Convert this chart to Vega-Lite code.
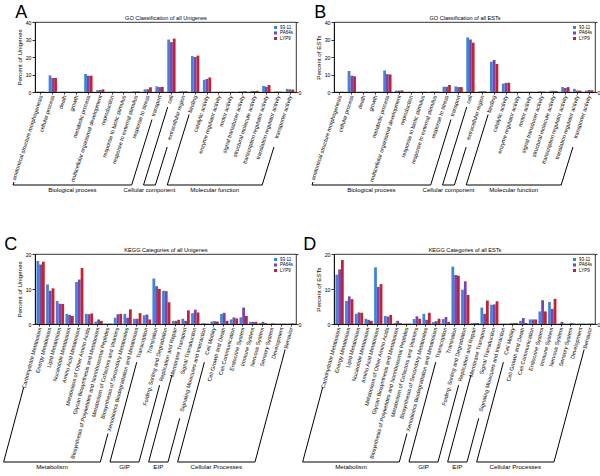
{
"$schema": "https://vega.github.io/schema/vega-lite/v6.json",
"background": "white",
"padding": {"left": 2, "top": 3, "right": 0, "bottom": 0},
"columns": 2,
"spacing": {"row": 162, "column": 38},
"bounds": "flush",
"resolve": {"scale": {"color": "independent"}, "legend": {"color": "independent"}},
"datasets": {
"goA": [
{"cat": "anatomical structure morphogenesis", "93-11": 0.1, "PA64s": 0.1, "LYP9": 0.1},
{"cat": "cellular process", "93-11": 9.5, "PA64s": 8.0, "LYP9": 8.0},
{"cat": "death", "93-11": 0.1, "PA64s": 0.1, "LYP9": 0.1},
{"cat": "growth", "93-11": 0.1, "PA64s": 0.1, "LYP9": 0.1},
{"cat": "metabolic process", "93-11": 10.3, "PA64s": 9.3, "LYP9": 9.3},
{"cat": "multicellular organismal development", "93-11": 1.0, "PA64s": 1.1, "LYP9": 1.5},
{"cat": "reproduction", "93-11": 0.1, "PA64s": 0.1, "LYP9": 0.1},
{"cat": "response to biotic stimulus", "93-11": 0.2, "PA64s": 0.1, "LYP9": 0.1},
{"cat": "response to external stimulus", "93-11": 0.3, "PA64s": 0.3, "LYP9": 0.3},
{"cat": "response to stress", "93-11": 1.5, "PA64s": 1.6, "LYP9": 2.7},
{"cat": "transport", "93-11": 3.2, "PA64s": 2.8, "LYP9": 2.9},
{"cat": "cell", "93-11": 30.0, "PA64s": 28.5, "LYP9": 30.5},
{"cat": "extracellular region", "93-11": 0.4, "PA64s": 0.4, "LYP9": 0.4},
{"cat": "binding", "93-11": 20.5, "PA64s": 20.0, "LYP9": 20.8},
{"cat": "catalytic activity", "93-11": 7.0, "PA64s": 7.5, "LYP9": 8.3},
{"cat": "enzyme regulator activity", "93-11": 0.1, "PA64s": 0.1, "LYP9": 0.1},
{"cat": "motor activity", "93-11": 0.1, "PA64s": 0.1, "LYP9": 0.1},
{"cat": "signal transducer activity", "93-11": 0.3, "PA64s": 0.3, "LYP9": 0.4},
{"cat": "structural molecule activity", "93-11": 0.7, "PA64s": 0.6, "LYP9": 0.7},
{"cat": "transcription regulator activity", "93-11": 3.5, "PA64s": 3.0, "LYP9": 4.0},
{"cat": "translation regulator activity", "93-11": 0.3, "PA64s": 0.2, "LYP9": 0.2},
{"cat": "transporter activity", "93-11": 1.8, "PA64s": 1.5, "LYP9": 1.4}
],
"goB": [
{"cat": "anatomical structure morphogenesis", "93-11": 0.1, "PA64s": 0.1, "LYP9": 0.1},
{"cat": "cellular process", "93-11": 12.0, "PA64s": 9.3, "LYP9": 9.0},
{"cat": "death", "93-11": 0.1, "PA64s": 0.1, "LYP9": 0.1},
{"cat": "growth", "93-11": 0.1, "PA64s": 0.1, "LYP9": 0.1},
{"cat": "metabolic process", "93-11": 12.3, "PA64s": 10.2, "LYP9": 10.0},
{"cat": "multicellular organismal development", "93-11": 0.8, "PA64s": 0.8, "LYP9": 0.9},
{"cat": "reproduction", "93-11": 0.1, "PA64s": 0.1, "LYP9": 0.1},
{"cat": "response to biotic stimulus", "93-11": 0.1, "PA64s": 0.1, "LYP9": 0.1},
{"cat": "response to external stimulus", "93-11": 0.3, "PA64s": 0.2, "LYP9": 0.2},
{"cat": "response to stress", "93-11": 3.0, "PA64s": 3.0, "LYP9": 4.0},
{"cat": "transport", "93-11": 3.2, "PA64s": 2.8, "LYP9": 2.8},
{"cat": "cell", "93-11": 31.2, "PA64s": 30.0, "LYP9": 28.2},
{"cat": "extracellular region", "93-11": 0.4, "PA64s": 0.4, "LYP9": 0.4},
{"cat": "binding", "93-11": 17.3, "PA64s": 18.3, "LYP9": 16.0},
{"cat": "catalytic activity", "93-11": 4.8, "PA64s": 5.2, "LYP9": 5.3},
{"cat": "enzyme regulator activity", "93-11": 0.1, "PA64s": 0.1, "LYP9": 0.1},
{"cat": "motor activity", "93-11": 0.1, "PA64s": 0.1, "LYP9": 0.1},
{"cat": "signal transducer activity", "93-11": 0.4, "PA64s": 0.3, "LYP9": 0.2},
{"cat": "structural molecule activity", "93-11": 0.7, "PA64s": 0.7, "LYP9": 0.6},
{"cat": "transcription regulator activity", "93-11": 2.8, "PA64s": 2.3, "LYP9": 2.8},
{"cat": "translation regulator activity", "93-11": 1.8, "PA64s": 0.8, "LYP9": 0.8},
{"cat": "transporter activity", "93-11": 0.8, "PA64s": 1.1, "LYP9": 1.0}
],
"keggC": [
{"cat": "Carbohydrate Metabolism", "93-11": 18.0, "PA64s": 17.0, "LYP9": 17.8},
{"cat": "Energy Metabolism", "93-11": 11.3, "PA64s": 9.5, "LYP9": 10.2},
{"cat": "Lipid Metabolism", "93-11": 6.6, "PA64s": 5.8, "LYP9": 5.7},
{"cat": "Nucleotide Metabolism", "93-11": 2.9, "PA64s": 2.6, "LYP9": 2.3},
{"cat": "Amino Acid Metabolism", "93-11": 12.0, "PA64s": 12.7, "LYP9": 16.0},
{"cat": "Metabolism of Other Amino Acids", "93-11": 2.9, "PA64s": 2.8, "LYP9": 3.0},
{"cat": "Glycan Biosynthesis and Metabolism", "93-11": 0.7, "PA64s": 1.3, "LYP9": 0.9},
{"cat": "Biosynthesis of Polyketides and Nonribosomal Peptides", "93-11": 0.1, "PA64s": 0.1, "LYP9": 0.1},
{"cat": "Metabolism of Cofactors and Vitamins", "93-11": 1.8, "PA64s": 2.8, "LYP9": 2.9},
{"cat": "Biosynthesis of Secondary Metabolites", "93-11": 2.9, "PA64s": 1.8, "LYP9": 4.2},
{"cat": "Xenobiotics Biodegradation and Metabolism", "93-11": 1.5, "PA64s": 1.5, "LYP9": 3.1},
{"cat": "Transcription", "93-11": 2.5, "PA64s": 2.7, "LYP9": 1.3},
{"cat": "Translation", "93-11": 13.0, "PA64s": 10.8, "LYP9": 10.0},
{"cat": "Folding, Sorting and Degradation", "93-11": 9.5, "PA64s": 9.4, "LYP9": 6.2},
{"cat": "Replication and Repair", "93-11": 0.9, "PA64s": 0.9, "LYP9": 1.2},
{"cat": "Membrane Transport", "93-11": 1.5, "PA64s": 0.9, "LYP9": 3.9},
{"cat": "Signal Transduction", "93-11": 3.1, "PA64s": 4.1, "LYP9": 3.3},
{"cat": "Signaling Molecules and Interaction", "93-11": 0.2, "PA64s": 0.2, "LYP9": 0.1},
{"cat": "Cell Motility", "93-11": 0.7, "PA64s": 0.8, "LYP9": 0.7},
{"cat": "Cell Growth and Death", "93-11": 2.9, "PA64s": 3.2, "LYP9": 0.9},
{"cat": "Cell Communication", "93-11": 1.3, "PA64s": 1.9, "LYP9": 1.6},
{"cat": "Endocrine System", "93-11": 1.9, "PA64s": 4.7, "LYP9": 2.3},
{"cat": "Immune System", "93-11": 0.6, "PA64s": 0.6, "LYP9": 0.6},
{"cat": "Nervous System", "93-11": 0.3, "PA64s": 0.6, "LYP9": 0.3},
{"cat": "Sensory System", "93-11": 0.1, "PA64s": 0.2, "LYP9": 0.1},
{"cat": "Development", "93-11": 0.1, "PA64s": 0.1, "LYP9": 0.1},
{"cat": "Behavior", "93-11": 0.1, "PA64s": 0.2, "LYP9": 0.1}
],
"keggD": [
{"cat": "Carbohydrate Metabolism", "93-11": 14.1, "PA64s": 15.6, "LYP9": 18.3},
{"cat": "Energy Metabolism", "93-11": 6.6, "PA64s": 7.9, "LYP9": 7.1},
{"cat": "Lipid Metabolism", "93-11": 2.9, "PA64s": 3.3, "LYP9": 3.2},
{"cat": "Nucleotide Metabolism", "93-11": 1.5, "PA64s": 1.2, "LYP9": 0.9},
{"cat": "Amino Acid Metabolism", "93-11": 16.2, "PA64s": 10.6, "LYP9": 11.4},
{"cat": "Metabolism of Other Amino Acids", "93-11": 2.3, "PA64s": 2.1, "LYP9": 2.6},
{"cat": "Glycan Biosynthesis and Metabolism", "93-11": 0.3, "PA64s": 0.9, "LYP9": 0.3},
{"cat": "Biosynthesis of Polyketides and Nonribosomal Peptides", "93-11": 0.1, "PA64s": 0.1, "LYP9": 0.1},
{"cat": "Metabolism of Cofactors and Vitamins", "93-11": 1.4, "PA64s": 2.2, "LYP9": 1.5},
{"cat": "Biosynthesis of Secondary Metabolites", "93-11": 2.9, "PA64s": 1.2, "LYP9": 3.2},
{"cat": "Xenobiotics Biodegradation and Metabolism", "93-11": 0.6, "PA64s": 0.8, "LYP9": 1.5},
{"cat": "Transcription", "93-11": 1.4, "PA64s": 2.0, "LYP9": 0.6},
{"cat": "Translation", "93-11": 16.4, "PA64s": 14.0, "LYP9": 13.8},
{"cat": "Folding, Sorting and Degradation", "93-11": 9.8, "PA64s": 12.2, "LYP9": 8.3},
{"cat": "Replication and Repair", "93-11": 0.3, "PA64s": 0.3, "LYP9": 0.3},
{"cat": "Membrane Transport", "93-11": 4.7, "PA64s": 2.9, "LYP9": 6.7},
{"cat": "Signal Transduction", "93-11": 5.5, "PA64s": 5.6, "LYP9": 6.5},
{"cat": "Signaling Molecules and Interaction", "93-11": 0.1, "PA64s": 0.1, "LYP9": 0.1},
{"cat": "Cell Motility", "93-11": 0.3, "PA64s": 0.3, "LYP9": 0.3},
{"cat": "Cell Growth and Death", "93-11": 0.9, "PA64s": 1.7, "LYP9": 0.3},
{"cat": "Cell Communication", "93-11": 1.3, "PA64s": 1.3, "LYP9": 1.3},
{"cat": "Endocrine System", "93-11": 3.6, "PA64s": 6.8, "LYP9": 3.6},
{"cat": "Immune System", "93-11": 6.3, "PA64s": 4.3, "LYP9": 7.2},
{"cat": "Nervous System", "93-11": 0.1, "PA64s": 0.6, "LYP9": 0.1},
{"cat": "Sensory System", "93-11": 0.1, "PA64s": 0.3, "LYP9": 0.1},
{"cat": "Development", "93-11": 0.1, "PA64s": 0.1, "LYP9": 0.1},
{"cat": "Behavior", "93-11": 0.1, "PA64s": 0.1, "LYP9": 0.1}
],
"goBr": [
{"group": "Biological process", "first": 0, "last": 10, "fl": "anatomical structure morphogenesis", "ll": "transport"},
{"group": "Cellular component", "first": 11, "last": 12, "fl": "cell", "ll": "extracellular region"},
{"group": "Molecular function", "first": 13, "last": 21, "fl": "binding", "ll": "transporter activity"}
],
"keggBr": [
{"group": "Metabolism", "first": 0, "last": 10, "fl": "Carbohydrate Metabolism", "ll": "Xenobiotics Biodegradation and Metabolism"},
{"group": "GIP", "first": 11, "last": 14, "fl": "Transcription", "ll": "Replication and Repair"},
{"group": "EIP", "first": 15, "last": 17, "fl": "Membrane Transport", "ll": "Signaling Molecules and Interaction"},
{"group": "Cellular Processes", "first": 18, "last": 26, "fl": "Cell Motility", "ll": "Behavior"}
]
},
"concat": [
{
"width": 261, "height": 70,
"title": {"text": "A", "anchor": "start", "frame": "bounds", "fontSize": 18, "fontWeight": "normal", "offset": 0, "dy": 7, "dx": 4},
"layer": [
{"data": {"name": "goA"},
 "transform": [{"fold": ["93-11", "PA64s", "LYP9"], "as": ["line", "pct"]}],
 "mark": {"type": "bar"},
 "encoding": {
  "x": {"field": "cat", "type": "nominal", "sort": null, "scale": {"paddingInner": 0.3, "paddingOuter": 0.15}, "axis": {"title": null, "labelAngle": -72, "labelAlign": "right", "labelBaseline": "middle", "labelFontSize": 5.5, "tickSize": 2, "labelPadding": 1, "labelOverlap": false, "labelLimit": 300}},
  "xOffset": {"field": "line", "type": "nominal", "sort": ["93-11", "PA64s", "LYP9"]},
  "y": {"field": "pct", "type": "quantitative", "scale": {"domain": [0, 40]}, "axis": {"title": "Percent of Unigenes", "values": [0, 10, 20, 30, 40], "titlePadding": 3}},
  "color": {"field": "line", "type": "nominal", "scale": {"domain": ["93-11", "PA64s", "LYP9"], "range": ["#3d85d8", "#7a44b3", "#c8202c"]}, "legend": {"title": null, "orient": "top-right", "offset": 3, "symbolType": "square", "symbolSize": 9, "labelFontSize": 4.5, "rowPadding": 0.5, "padding": 0, "labelOffset": 2}}
 }},
{"data": {"name": "goBr"},
 "transform": [
  {"calculate": "min(5 + length(datum.fl) * 2.5, 92)", "as": "dL"},
  {"calculate": "min(5 + length(datum.ll) * 2.5, 92)", "as": "dR"},
  {"calculate": "datum.first + 0.5 - (datum.dL - 3) * 0.31 / 11.864", "as": "xLT"},
  {"calculate": "-datum.dL / 1.75", "as": "yLT"},
  {"calculate": "datum.first + 0.5 - 90 * 0.31 / 11.864", "as": "xLB"},
  {"calculate": "datum.last + 0.5 - (datum.dR - 3) * 0.31 / 11.864", "as": "xRT"},
  {"calculate": "-datum.dR / 1.75", "as": "yRT"},
  {"calculate": "datum.last + 0.5 - 90 * 0.31 / 11.864", "as": "xRB"},
  {"calculate": "-93 / 1.75", "as": "yB"},
  {"calculate": "(datum.xLB + datum.xRB) / 2", "as": "xM"}
 ],
 "layer": [
  {"mark": {"type": "rule", "clip": false, "color": "black", "strokeWidth": 1},
   "encoding": {
    "x": {"field": "xLT", "type": "quantitative", "scale": {"domain": [0, 22], "nice": false, "zero": false}, "axis": {"orient": "top", "title": "GO Classification of all Unigenes", "titleFontSize": 5.6, "labels": false, "ticks": false, "domain": false, "titlePadding": 2}},
    "x2": {"field": "xLB"},
    "y": {"field": "yLT", "type": "quantitative", "scale": {"domain": [0, 40]}, "axis": {"orient": "right", "title": null, "values": [0, 10, 20, 30, 40], "labelExpr": "datum.value == 0 ? '0' : ''", "domain": false, "tickSize": 2, "labelPadding": 0}},
    "y2": {"field": "yB"}}},
  {"mark": {"type": "rule", "clip": false, "color": "black", "strokeWidth": 1},
   "encoding": {"x": {"field": "xLB", "type": "quantitative"}, "x2": {"field": "xRB"}, "y": {"field": "yB", "type": "quantitative"}}},
  {"mark": {"type": "rule", "clip": false, "color": "black", "strokeWidth": 1},
   "encoding": {"x": {"field": "xRT", "type": "quantitative"}, "x2": {"field": "xRB"}, "y": {"field": "yRT", "type": "quantitative"}, "y2": {"field": "yB"}}},
  {"mark": {"type": "text", "clip": false, "baseline": "top", "fontSize": 6, "dy": 1.5},
   "encoding": {"x": {"field": "xM", "type": "quantitative"}, "y": {"field": "yB", "type": "quantitative"}, "text": {"field": "group"}}}
 ]}
],
"resolve": {"scale": {"x": "independent"}, "axis": {"y": "independent"}}
},
{
"width": 261, "height": 70,
"title": {"text": "B", "anchor": "start", "frame": "bounds", "fontSize": 18, "fontWeight": "normal", "offset": 0, "dy": 7, "dx": 4},
"layer": [
{"data": {"name": "goB"},
 "transform": [{"fold": ["93-11", "PA64s", "LYP9"], "as": ["line", "pct"]}],
 "mark": {"type": "bar"},
 "encoding": {
  "x": {"field": "cat", "type": "nominal", "sort": null, "scale": {"paddingInner": 0.3, "paddingOuter": 0.15}, "axis": {"title": null, "labelAngle": -72, "labelAlign": "right", "labelBaseline": "middle", "labelFontSize": 5.5, "tickSize": 2, "labelPadding": 1, "labelOverlap": false, "labelLimit": 300}},
  "xOffset": {"field": "line", "type": "nominal", "sort": ["93-11", "PA64s", "LYP9"]},
  "y": {"field": "pct", "type": "quantitative", "scale": {"domain": [0, 40]}, "axis": {"title": "Percent of ESTs", "values": [0, 10, 20, 30, 40], "titlePadding": 3}},
  "color": {"field": "line", "type": "nominal", "scale": {"domain": ["93-11", "PA64s", "LYP9"], "range": ["#3d85d8", "#7a44b3", "#c8202c"]}, "legend": {"title": null, "orient": "top-right", "offset": 3, "symbolType": "square", "symbolSize": 9, "labelFontSize": 4.5, "rowPadding": 0.5, "padding": 0, "labelOffset": 2}}
 }},
{"data": {"name": "goBr"},
 "transform": [
  {"calculate": "min(5 + length(datum.fl) * 2.5, 92)", "as": "dL"},
  {"calculate": "min(5 + length(datum.ll) * 2.5, 92)", "as": "dR"},
  {"calculate": "datum.first + 0.5 - (datum.dL - 3) * 0.31 / 11.864", "as": "xLT"},
  {"calculate": "-datum.dL / 1.75", "as": "yLT"},
  {"calculate": "datum.first + 0.5 - 90 * 0.31 / 11.864", "as": "xLB"},
  {"calculate": "datum.last + 0.5 - (datum.dR - 3) * 0.31 / 11.864", "as": "xRT"},
  {"calculate": "-datum.dR / 1.75", "as": "yRT"},
  {"calculate": "datum.last + 0.5 - 90 * 0.31 / 11.864", "as": "xRB"},
  {"calculate": "-93 / 1.75", "as": "yB"},
  {"calculate": "(datum.xLB + datum.xRB) / 2", "as": "xM"}
 ],
 "layer": [
  {"mark": {"type": "rule", "clip": false, "color": "black", "strokeWidth": 1},
   "encoding": {
    "x": {"field": "xLT", "type": "quantitative", "scale": {"domain": [0, 22], "nice": false, "zero": false}, "axis": {"orient": "top", "title": "GO Classification of all ESTs", "titleFontSize": 5.6, "labels": false, "ticks": false, "domain": false, "titlePadding": 2}},
    "x2": {"field": "xLB"},
    "y": {"field": "yLT", "type": "quantitative", "scale": {"domain": [0, 40]}, "axis": {"orient": "right", "title": null, "values": [0, 10, 20, 30, 40], "labelExpr": "datum.value == 0 ? '0' : ''", "domain": false, "tickSize": 2, "labelPadding": 0}},
    "y2": {"field": "yB"}}},
  {"mark": {"type": "rule", "clip": false, "color": "black", "strokeWidth": 1},
   "encoding": {"x": {"field": "xLB", "type": "quantitative"}, "x2": {"field": "xRB"}, "y": {"field": "yB", "type": "quantitative"}}},
  {"mark": {"type": "rule", "clip": false, "color": "black", "strokeWidth": 1},
   "encoding": {"x": {"field": "xRT", "type": "quantitative"}, "x2": {"field": "xRB"}, "y": {"field": "yRT", "type": "quantitative"}, "y2": {"field": "yB"}}},
  {"mark": {"type": "text", "clip": false, "baseline": "top", "fontSize": 6, "dy": 1.5},
   "encoding": {"x": {"field": "xM", "type": "quantitative"}, "y": {"field": "yB", "type": "quantitative"}, "text": {"field": "group"}}}
 ]}
],
"resolve": {"scale": {"x": "independent"}, "axis": {"y": "independent"}}
},
{
"width": 261, "height": 70,
"title": {"text": "C", "anchor": "start", "frame": "bounds", "fontSize": 18, "fontWeight": "normal", "offset": 0, "dy": 7, "dx": 1},
"layer": [
{"data": {"name": "keggC"},
 "transform": [{"fold": ["93-11", "PA64s", "LYP9"], "as": ["line", "pct"]}],
 "mark": {"type": "bar"},
 "encoding": {
  "x": {"field": "cat", "type": "nominal", "sort": null, "scale": {"paddingInner": 0.3, "paddingOuter": 0.15}, "axis": {"title": null, "labelAngle": -75, "labelAlign": "right", "labelBaseline": "middle", "labelFontSize": 5.5, "tickSize": 2, "labelPadding": 1, "labelOverlap": false, "labelLimit": 300}},
  "xOffset": {"field": "line", "type": "nominal", "sort": ["93-11", "PA64s", "LYP9"]},
  "y": {"field": "pct", "type": "quantitative", "scale": {"domain": [0, 20]}, "axis": {"title": "Percent of Unigenes", "values": [0, 10, 20], "titlePadding": 3}},
  "color": {"field": "line", "type": "nominal", "scale": {"domain": ["93-11", "PA64s", "LYP9"], "range": ["#3d85d8", "#7a44b3", "#c8202c"]}, "legend": {"title": null, "orient": "top-right", "offset": 3, "symbolType": "square", "symbolSize": 9, "labelFontSize": 4.5, "rowPadding": 0.5, "padding": 0, "labelOffset": 2}}
 }},
{"data": {"name": "keggBr"},
 "transform": [
  {"calculate": "min(5 + length(datum.fl) * 2.55, 136)", "as": "dL"},
  {"calculate": "min(5 + length(datum.ll) * 2.55, 136)", "as": "dR"},
  {"calculate": "datum.first + 0.5 - (datum.dL - 3) * 0.268 / 9.667", "as": "xLT"},
  {"calculate": "-datum.dL / 3.5", "as": "yLT"},
  {"calculate": "datum.first + 0.5 - 135 * 0.268 / 9.667", "as": "xLB"},
  {"calculate": "datum.last + 0.5 - (datum.dR - 3) * 0.268 / 9.667", "as": "xRT"},
  {"calculate": "-datum.dR / 3.5", "as": "yRT"},
  {"calculate": "datum.last + 0.5 - 135 * 0.268 / 9.667", "as": "xRB"},
  {"calculate": "-138 / 3.5", "as": "yB"},
  {"calculate": "(datum.xLB + datum.xRB) / 2", "as": "xM"}
 ],
 "layer": [
  {"mark": {"type": "rule", "clip": false, "color": "black", "strokeWidth": 1},
   "encoding": {
    "x": {"field": "xLT", "type": "quantitative", "scale": {"domain": [0, 27], "nice": false, "zero": false}, "axis": {"orient": "top", "title": "KEGG Categories of all Unigenes", "titleFontSize": 5.6, "labels": false, "ticks": false, "domain": false, "titlePadding": 2}},
    "x2": {"field": "xLB"},
    "y": {"field": "yLT", "type": "quantitative", "scale": {"domain": [0, 20]}, "axis": {"orient": "right", "title": null, "values": [0, 10, 20], "labelExpr": "datum.value == 0 ? '0' : ''", "domain": false, "tickSize": 2, "labelPadding": 0}},
    "y2": {"field": "yB"}}},
  {"mark": {"type": "rule", "clip": false, "color": "black", "strokeWidth": 1},
   "encoding": {"x": {"field": "xLB", "type": "quantitative"}, "x2": {"field": "xRB"}, "y": {"field": "yB", "type": "quantitative"}}},
  {"mark": {"type": "rule", "clip": false, "color": "black", "strokeWidth": 1},
   "encoding": {"x": {"field": "xRT", "type": "quantitative"}, "x2": {"field": "xRB"}, "y": {"field": "yRT", "type": "quantitative"}, "y2": {"field": "yB"}}},
  {"mark": {"type": "text", "clip": false, "baseline": "top", "fontSize": 6.2, "dy": 1.5},
   "encoding": {"x": {"field": "xM", "type": "quantitative"}, "y": {"field": "yB", "type": "quantitative"}, "text": {"field": "group"}}}
 ]}
],
"resolve": {"scale": {"x": "independent"}, "axis": {"y": "independent"}}
},
{
"width": 261, "height": 70,
"title": {"text": "D", "anchor": "start", "frame": "bounds", "fontSize": 18, "fontWeight": "normal", "offset": 0, "dy": 7, "dx": 1},
"layer": [
{"data": {"name": "keggD"},
 "transform": [{"fold": ["93-11", "PA64s", "LYP9"], "as": ["line", "pct"]}],
 "mark": {"type": "bar"},
 "encoding": {
  "x": {"field": "cat", "type": "nominal", "sort": null, "scale": {"paddingInner": 0.3, "paddingOuter": 0.15}, "axis": {"title": null, "labelAngle": -75, "labelAlign": "right", "labelBaseline": "middle", "labelFontSize": 5.5, "tickSize": 2, "labelPadding": 1, "labelOverlap": false, "labelLimit": 300}},
  "xOffset": {"field": "line", "type": "nominal", "sort": ["93-11", "PA64s", "LYP9"]},
  "y": {"field": "pct", "type": "quantitative", "scale": {"domain": [0, 20]}, "axis": {"title": "Percent of ESTs", "values": [0, 10, 20], "titlePadding": 3}},
  "color": {"field": "line", "type": "nominal", "scale": {"domain": ["93-11", "PA64s", "LYP9"], "range": ["#3d85d8", "#7a44b3", "#c8202c"]}, "legend": {"title": null, "orient": "top-right", "offset": 3, "symbolType": "square", "symbolSize": 9, "labelFontSize": 4.5, "rowPadding": 0.5, "padding": 0, "labelOffset": 2}}
 }},
{"data": {"name": "keggBr"},
 "transform": [
  {"calculate": "min(5 + length(datum.fl) * 2.55, 136)", "as": "dL"},
  {"calculate": "min(5 + length(datum.ll) * 2.55, 136)", "as": "dR"},
  {"calculate": "datum.first + 0.5 - (datum.dL - 3) * 0.268 / 9.667", "as": "xLT"},
  {"calculate": "-datum.dL / 3.5", "as": "yLT"},
  {"calculate": "datum.first + 0.5 - 135 * 0.268 / 9.667", "as": "xLB"},
  {"calculate": "datum.last + 0.5 - (datum.dR - 3) * 0.268 / 9.667", "as": "xRT"},
  {"calculate": "-datum.dR / 3.5", "as": "yRT"},
  {"calculate": "datum.last + 0.5 - 135 * 0.268 / 9.667", "as": "xRB"},
  {"calculate": "-138 / 3.5", "as": "yB"},
  {"calculate": "(datum.xLB + datum.xRB) / 2", "as": "xM"}
 ],
 "layer": [
  {"mark": {"type": "rule", "clip": false, "color": "black", "strokeWidth": 1},
   "encoding": {
    "x": {"field": "xLT", "type": "quantitative", "scale": {"domain": [0, 27], "nice": false, "zero": false}, "axis": {"orient": "top", "title": "KEGG Categories of all ESTs", "titleFontSize": 5.6, "labels": false, "ticks": false, "domain": false, "titlePadding": 2}},
    "x2": {"field": "xLB"},
    "y": {"field": "yLT", "type": "quantitative", "scale": {"domain": [0, 20]}, "axis": {"orient": "right", "title": null, "values": [0, 10, 20], "labelExpr": "datum.value == 0 ? '0' : ''", "domain": false, "tickSize": 2, "labelPadding": 0}},
    "y2": {"field": "yB"}}},
  {"mark": {"type": "rule", "clip": false, "color": "black", "strokeWidth": 1},
   "encoding": {"x": {"field": "xLB", "type": "quantitative"}, "x2": {"field": "xRB"}, "y": {"field": "yB", "type": "quantitative"}}},
  {"mark": {"type": "rule", "clip": false, "color": "black", "strokeWidth": 1},
   "encoding": {"x": {"field": "xRT", "type": "quantitative"}, "x2": {"field": "xRB"}, "y": {"field": "yRT", "type": "quantitative"}, "y2": {"field": "yB"}}},
  {"mark": {"type": "text", "clip": false, "baseline": "top", "fontSize": 6.2, "dy": 1.5},
   "encoding": {"x": {"field": "xM", "type": "quantitative"}, "y": {"field": "yB", "type": "quantitative"}, "text": {"field": "group"}}}
 ]}
],
"resolve": {"scale": {"x": "independent"}, "axis": {"y": "independent"}}
}
],
"config": {
 "font": "Liberation Sans",
 "view": {"stroke": "black", "strokeWidth": 0.8},
 "axis": {"domainColor": "black", "tickColor": "black", "labelColor": "black", "titleColor": "black", "grid": false, "labelFontSize": 5.2, "titleFontSize": 6.2, "titleFontWeight": "normal", "tickSize": 3, "labelPadding": 1, "domainWidth": 0.8, "tickWidth": 0.8},
 "title": {"color": "black"},
 "legend": {"labelColor": "black"},
 "text": {"color": "black"}
}
}
